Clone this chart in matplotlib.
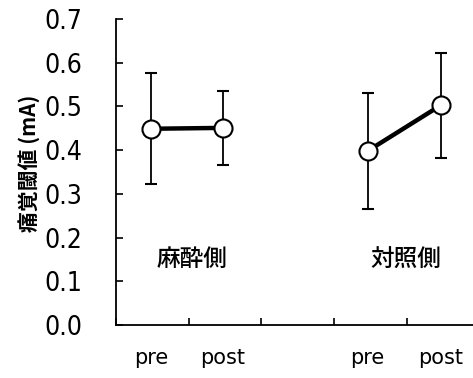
import matplotlib.pyplot as plt
from matplotlib import font_manager

# pick a narrow, regular-weight face for the numbers if one is installed
narrow = None
for f in font_manager.fontManager.ttflist:
    if ('Narrow' in f.name or f.stretch in ('condensed', 'semi-condensed')) \
            and f.weight in (400, 'normal', 'regular') and f.style == 'normal':
        narrow = f.fname
        break

plt.rcParams['font.family'] = ['Liberation Sans', 'Noto Sans CJK JP', 'DejaVu Sans']

phase = ["pre", "post", "pre", "post"]
xpos = [0.48, 1.47, 3.46, 4.47]
groups = ["麻酔側", "対照側"]
group_x = [1.05, 3.99]

anes_mean = [0.449, 0.451]
anes_err = [0.127, 0.084]
ctrl_mean = [0.398, 0.503]
ctrl_err = [0.133, 0.12]
yticks = [0.0, 0.1, 0.2, 0.3, 0.4, 0.5, 0.6, 0.7]

fig = plt.figure(figsize=(4.73, 3.78), dpi=100)
ax = fig.add_axes([0.245, 0.140, 0.755, 0.8097])

for xs, m, e in [(xpos[:2], anes_mean, anes_err), (xpos[2:], ctrl_mean, ctrl_err)]:
    ax.errorbar(xs, m, yerr=e, fmt='none', ecolor='black', elinewidth=1.3,
                capsize=4.5, capthick=1.5, zorder=2)
    ax.plot(xs, m, color='black', linewidth=3.2, zorder=3)
    ax.plot(xs, m, 'o', markersize=13, markerfacecolor='white',
            markeredgecolor='black', markeredgewidth=1.5, zorder=4)

for gx, g in zip(group_x, groups):
    ax.text(gx, 0.151, g, ha='center', va='center', fontsize=17,
            family=['Noto Sans CJK JP'], fontweight='medium')

for x, p in zip(xpos, phase):
    ax.text(x, -0.108, p, ha='center', va='center', fontsize=15,
            transform=ax.get_xaxis_transform(), family=['DejaVu Sans'])

ax.set_ylim(0, 0.7)
ax.set_xlim(0, 4.91)
ax.set_yticks(yticks)
ax.set_yticklabels([f"{v:.1f}" for v in yticks])
ax.set_xticks([0, 1, 2, 3, 4])
ax.set_xticklabels([])
ax.tick_params(direction='in', length=5, width=1.2, labelsize=18, pad=24)
if narrow:
    fp = font_manager.FontProperties(fname=narrow, size=19)
    for lab in ax.get_yticklabels():
        lab.set_fontproperties(fp)
ax.spines['top'].set_visible(False)
ax.spines['right'].set_visible(False)
ax.spines['left'].set_linewidth(1.3)
ax.spines['bottom'].set_linewidth(1.3)

ax.set_ylabel("痛覚閾値 (mA)", fontsize=15, fontweight='bold',
              family=['Noto Sans CJK JP'])
ax.yaxis.set_label_coords(-0.213, 0.53)

fig.savefig("out.png", dpi=100)
